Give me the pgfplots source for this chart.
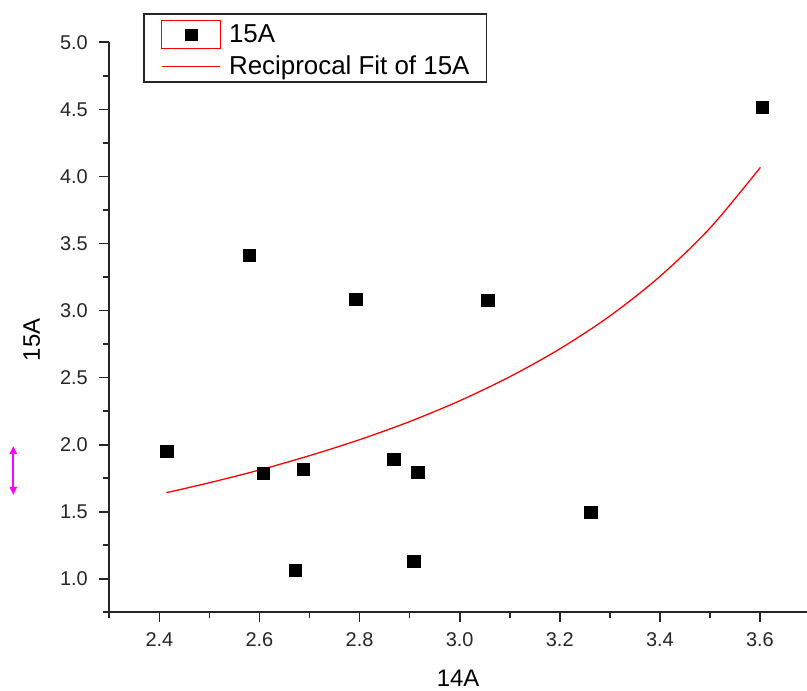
\documentclass[border=0pt]{standalone}
\usepackage{fontspec}
\setmainfont{Liberation Sans}
\usepackage{pgfplots}
\pgfplotsset{compat=1.18}
\usetikzlibrary{arrows.meta}
\definecolor{handle}{RGB}{255,0,255}
\pgfplotsset{
  my scat legend/.style={legend image code/.code={
    \draw[red, line width=1.3bp] (0bp,-14.2bp) rectangle (58.6bp,14.2bp);
    \draw[mark repeat=2,mark phase=2,##1, mark size=5.6bp] plot coordinates {(0bp,0bp) (29.3bp,0bp) (58.6bp,0bp)};
  }},
  my line legend/.style={legend image code/.code={\draw[##1] (0bp,0bp) -- (58.6bp,0bp);}},
}
\begin{document}
\begin{tikzpicture}[x=1bp,y=1bp]
\path[use as bounding box] (0bp,0bp) rectangle (807bp,691bp);
\begin{axis}[
  at={(109.3bp,78.7bp)}, anchor=south west,
  scale only axis, width=697.7bp, height=570bp,
  xmin=2.3, xmax=3.694, ymin=0.75, ymax=5.0,
  axis x line*=bottom, axis y line*=left,
  axis line style={line width=1.9bp, black!85, -},
  xtick={2.4,2.6,2.8,3.0,3.2,3.4,3.6},
  ytick={1.0,1.5,2.0,2.5,3.0,3.5,4.0,4.5,5.0},
  minor xtick={2.3,2.5,2.7,2.9,3.1,3.3,3.5},
  minor ytick={0.75,1.25,1.75,2.25,2.75,3.25,3.75,4.25,4.75},
  tick align=outside,
  major tick length=10bp, minor tick length=6bp,
  every tick/.style={line width=1.7bp, black!85},
  major tick style={line width=1.7bp, black!85},
  minor tick style={line width=1.7bp, black!85},
  /pgf/number format/assume math mode=true,
  /pgf/number format/.cd, fixed, fixed zerofill, precision=1, /pgfplots/.cd,
  tick label style={font=\fontsize{20}{22}\selectfont, black!85},
  xticklabel style={anchor=center, yshift=-17bp},
  yticklabel style={anchor=east, xshift=-8bp},
  xlabel={14A}, ylabel={15A},
  label style={font=\fontsize{24}{28}\selectfont},
  xlabel style={at={(axis description cs:0.5,-0.1165)}, anchor=center},
  ylabel style={at={(axis description cs:-0.1112,0.4777)}, anchor=center},
  legend cell align=left,
  legend style={at={(axis description cs:0.0487,1.0509)}, anchor=north west,
    draw=black!85, line width=1.8bp, font=\fontsize{26}{29}\selectfont,
    inner xsep=17bp, inner ysep=5.5bp, row sep=6.7bp, column sep=8bp,
    nodes={inner sep=0pt}},
  clip=false,
]
\addplot[only marks, mark=square*, mark size=6.2bp,
  mark options={draw=black, fill=black, line width=0.4bp}, my scat legend] coordinates {
  (2.415,1.950) (2.580,3.413) (2.608,1.786) (2.672,1.062)
  (2.688,1.816) (2.792,3.084) (2.868,1.890) (2.908,1.129)
  (2.916,1.793) (3.056,3.077) (3.262,1.495) (3.604,4.518)
};
\addlegendentry{15A}
\addplot[red, line width=1.3bp, smooth, my line legend] coordinates {
  (2.414,1.642) (2.5,1.716) (2.6,1.811) (2.7,1.918) (2.8,2.037)
  (2.9,2.172) (3.0,2.327) (3.1,2.506) (3.2,2.714) (3.3,2.959)
  (3.4,3.254) (3.5,3.614) (3.601,4.068)
};
\addlegendentry{Reciprocal Fit of 15A}
\end{axis}
\draw[handle, line width=2.2bp, {Triangle[width=7bp,length=8bp]}-{Triangle[width=7bp,length=8bp]}]
  (13.3bp,245bp) -- (13.3bp,196bp);
\end{tikzpicture}
\end{document}
